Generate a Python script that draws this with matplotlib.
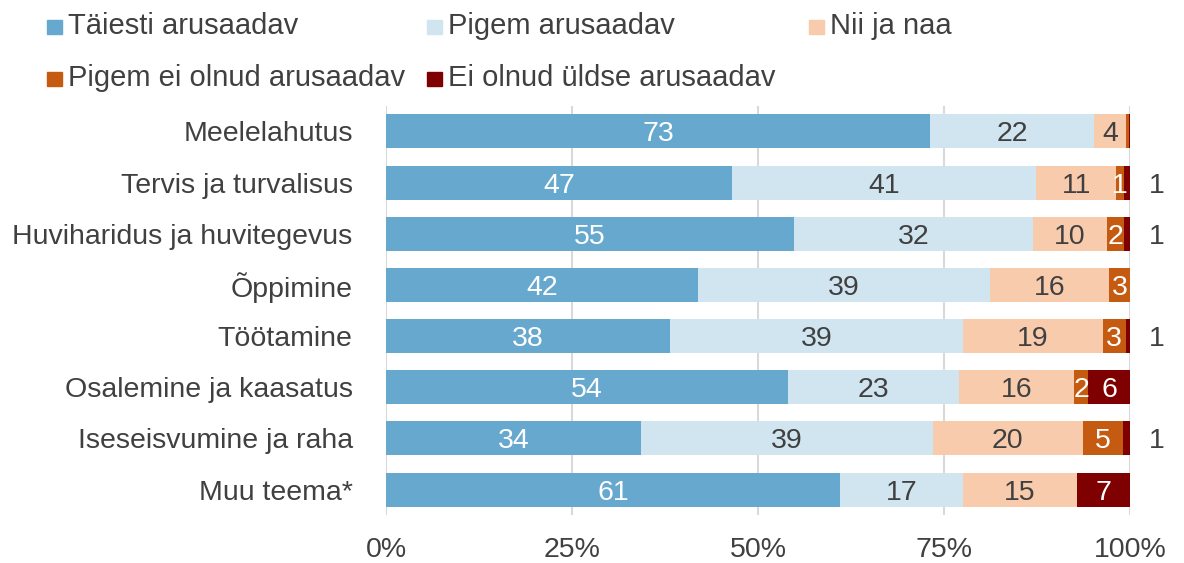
import numpy as np
import matplotlib
matplotlib.use("Agg")
from matplotlib import pyplot as plt
from matplotlib.patches import Rectangle

plt.rcParams['font.family'] = ['Liberation Sans', 'DejaVu Sans']

categories = ["Meelelahutus", "Tervis ja turvalisus", "Huviharidus ja huvitegevus",
              "Õppimine", "Töötamine", "Osalemine ja kaasatus",
              "Iseseisvumine ja raha", "Muu teema*"]
series = ["Täiesti arusaadav", "Pigem arusaadav", "Nii ja naa",
          "Pigem ei olnud arusaadav", "Ei olnud üldse arusaadav"]
taiesti = [73.1, 46.5, 54.8, 41.9, 38.2, 54.0, 34.3, 61.0]
pigem = [22.1, 40.9, 32.1, 39.3, 39.3, 23.0, 39.2, 16.5]
niijanaa = [4.3, 10.7, 10.0, 15.9, 18.8, 15.5, 20.1, 15.4]
pigem_ei = [0.3, 1.1, 2.3, 2.9, 3.1, 1.9, 5.4, 0.0]
ei_uldse = [0.2, 0.8, 0.8, 0.0, 0.6, 5.6, 1.0, 7.1]
xticks = [0, 25, 50, 75, 100]

colors = ["#67A8CF", "#D1E5F0", "#F8CBAD", "#C55A11", "#7F0000"]
txt_colors = ["white", "#404040", "#404040", "white", "white"]
dark = "#404040"
FS = 20.5

data = np.array([taiesti, pigem, niijanaa, pigem_ei, ei_uldse])

fig = plt.figure(figsize=(11.84, 5.63), dpi=100)
ax = fig.add_axes([0.326, 0.085, 0.6285, 0.727])

y = np.arange(len(categories))
left = np.zeros(len(categories))
for i, vals in enumerate(data):
    ax.barh(y, vals, left=left, height=0.667, color=colors[i], zorder=2)
    for j, v in enumerate(vals):
        if v < 0.5:
            continue
        lab = f"{int(round(v + 1e-9))}"
        if i == 4 and v < 2:
            ax.text(102.5, y[j], lab, ha="left", va="center_baseline",
                    fontsize=FS, color=dark)
        else:
            ax.text(left[j] + v / 2, y[j], lab, ha="center", va="center_baseline",
                    fontsize=FS, color=txt_colors[i], zorder=3)
    left = left + vals

ax.set_xlim(0, 100)
ax.set_ylim(len(categories) - 0.5, -0.5)
ax.set_yticks(y)
ax.set_yticklabels(categories, fontsize=FS, color=dark)
ax.set_xticks(xticks)
ax.set_xticklabels([f"{t}%" for t in xticks], fontsize=FS, color=dark)
ax.tick_params(axis="y", length=0, pad=24)
ax.tick_params(axis="x", length=0, pad=16)
ax.grid(axis="x", color="#D9D9D9", linewidth=1.5, zorder=0)
for s in ax.spines.values():
    s.set_visible(False)

# legend laid out like the Excel one (pixel positions: marker left, baseline)
leg_pos = [(47, 34), (427, 34), (809, 34), (47, 86), (427, 86)]
W, H = 1184, 563
for (px, py), c, name in zip(leg_pos, colors, series):
    fig.patches.append(Rectangle((px / W, 1 - py / H), 15 / W, 14 / H,
                                 transform=fig.transFigure, color=c))
    fig.text((px + 21) / W, 1 - py / H, name, ha="left", va="baseline",
             fontsize=21, color=dark)

plt.savefig("out.png", dpi=100)
